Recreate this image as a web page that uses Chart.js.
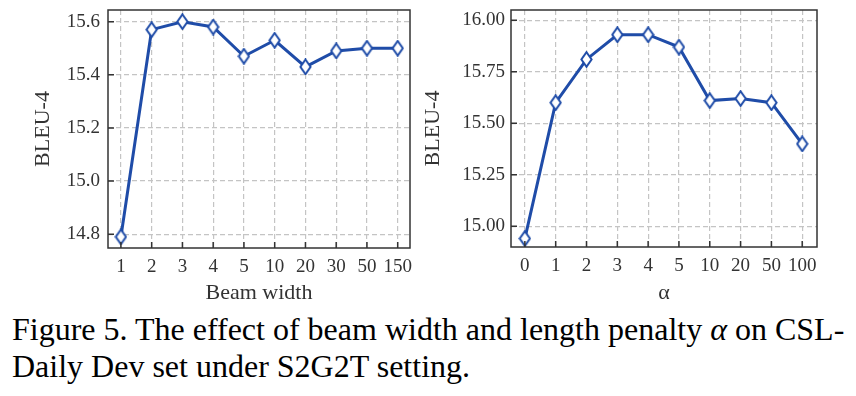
<!DOCTYPE html>
<html lang="en">
<head>
<meta charset="UTF-8">
<title>Beam width and length penalty</title>
<script src="https://cdn.jsdelivr.net/npm/chart.js"></script>
<style>
    body {
        margin: 0;
        background: #fff;
        width: 856px;
        height: 396px;
        position: relative;
        overflow: hidden;
        font-family: "Liberation Serif", "DejaVu Serif", serif;
    }
    .box {
        position: absolute;
        top: 0;
        height: 306px;
    }
    #leftBox { left: 0; width: 420px; }
    #rightBox { left: 420px; width: 436px; }
    .caption {
        position: absolute;
        left: 12px;
        top: 311px;
        font-size: 32px;
        line-height: 37px;
        color: #000;
        white-space: nowrap;
    }
</style>
</head>
<body>
<div class="box" id="leftBox"><canvas id="beamChart"></canvas></div>
<div class="box" id="rightBox"><canvas id="alphaChart"></canvas></div>
<div class="caption">Figure 5. The effect of beam width and length penalty <i>α</i> on CSL-<br>Daily Dev set under S2G2T setting.</div>

<script>
    // data
    const beamLabels = ['1', '2', '3', '4', '5', '10', '20', '30', '50', '150'];
    const beamBleu = [14.79, 15.57, 15.60, 15.58, 15.47, 15.53, 15.43, 15.49, 15.50, 15.50];

    const alphaLabels = ['0', '1', '2', '3', '4', '5', '10', '20', '50', '100'];
    const alphaBleu = [14.94, 15.60, 15.81, 15.93, 15.93, 15.87, 15.61, 15.62, 15.60, 15.40];

    const lineColor = '#1f4ca8';
    const frameColor = '#333333';
    const serif = '"Liberation Serif", "DejaVu Serif", serif';

    // thin diamond marker like matplotlib 'd'
    function makeDiamond() {
        const c = document.createElement('canvas');
        c.width = 13;
        c.height = 17;
        const g = c.getContext('2d');
        g.beginPath();
        g.moveTo(6.5, 1.2);
        g.lineTo(11.6, 8.5);
        g.lineTo(6.5, 15.8);
        g.lineTo(1.4, 8.5);
        g.closePath();
        g.fillStyle = '#ffffff';
        g.fill();
        g.lineWidth = 2;
        g.strokeStyle = lineColor;
        g.stroke();
        return c;
    }
    const diamond = makeDiamond();

    // box frame plus inward ticks on bottom and left
    const framePlugin = {
        id: 'frame',
        afterDatasetsDraw(chart) {
            const ctx = chart.ctx;
            const a = chart.chartArea;
            const xs = chart.scales.x;
            const ys = chart.scales.y;
            ctx.save();
            ctx.strokeStyle = frameColor;
            ctx.lineWidth = 1.5;
            ctx.strokeRect(a.left, a.top, a.right - a.left, a.bottom - a.top);
            ctx.beginPath();
            xs.ticks.forEach((t, i) => {
                const px = xs.getPixelForTick(i);
                ctx.moveTo(px, a.bottom);
                ctx.lineTo(px, a.bottom - 6);
            });
            ys.ticks.forEach((t, i) => {
                const py = ys.getPixelForTick(i);
                ctx.moveTo(a.left, py);
                ctx.lineTo(a.left + 6, py);
            });
            ctx.stroke();
            ctx.restore();
        }
    };

    // no extra room for edge labels, the layout padding sets the plot box
    function noEdgePad(s) {
        s.paddingTop = 0;
        s.paddingBottom = 0;
        s.paddingLeft = 0;
        s.paddingRight = 0;
    }

    function makeChart(id, labels, values, opts) {
        const points = values.map((v, i) => ({ x: i, y: v }));
        return new Chart(document.getElementById(id), {
            type: 'line',
            data: {
                datasets: [{
                    data: points,
                    borderColor: lineColor,
                    borderWidth: 3,
                    pointStyle: diamond,
                    pointRadius: 7,
                    pointHoverRadius: 7,
                    tension: 0
                }]
            },
            options: {
                responsive: true,
                maintainAspectRatio: false,
                animation: false,
                layout: { padding: opts.padding },
                plugins: {
                    legend: { display: false },
                    tooltip: { enabled: false }
                },
                scales: {
                    x: {
                        type: 'linear',
                        min: opts.xMin,
                        max: opts.xMax,
                        grid: { color: '#c4c4c4', lineWidth: 1.2, drawTicks: false },
                        border: { display: false, dash: [5, 3] },
                        ticks: {
                            stepSize: 1,
                            includeBounds: false,
                            autoSkip: false,
                            maxRotation: 0,
                            padding: 8,
                            color: '#333',
                            font: { family: serif, size: 19 },
                            callback: v => labels[v]
                        },
                        title: {
                            display: true,
                            text: opts.xTitle,
                            color: '#333',
                            font: { family: serif, size: 22 },
                            padding: { top: 0, bottom: 0 }
                        },
                        afterFit: s => { s.height = opts.xHeight; noEdgePad(s); }
                    },
                    y: {
                        min: opts.yMin,
                        max: opts.yMax,
                        grid: { color: '#c4c4c4', lineWidth: 1.2, drawTicks: false },
                        border: { display: false, dash: [5, 3] },
                        ticks: {
                            stepSize: opts.yStep,
                            includeBounds: false,
                            padding: opts.yPad,
                            color: '#333',
                            font: { family: serif, size: 19 },
                            callback: v => v.toFixed(opts.digits)
                        },
                        title: {
                            display: true,
                            text: 'BLEU-4',
                            color: '#333',
                            font: { family: serif, size: 22 },
                            padding: { top: 0, bottom: 0 }
                        },
                        afterFit: s => { s.width = opts.yWidth; noEdgePad(s); }
                    }
                }
            },
            plugins: [framePlugin]
        });
    }

    makeChart('beamChart', beamLabels, beamBleu, {
        xMin: -0.42, xMax: 9.4,
        yMin: 14.748, yMax: 15.644, yStep: 0.2, digits: 1, yPad: 8,
        xTitle: 'Beam width',
        padding: { top: 6, right: 10, bottom: 0, left: 30 },
        yWidth: 78, xHeight: 58
    });

    makeChart('alphaChart', alphaLabels, alphaBleu, {
        xMin: -0.45, xMax: 9.48,
        yMin: 14.899, yMax: 16.05, yStep: 0.25, digits: 2, yPad: 6,
        xTitle: 'α',
        padding: { top: 4, right: 39, bottom: 0, left: 0 },
        yWidth: 91, xHeight: 59
    });
</script>
</body>
</html>
